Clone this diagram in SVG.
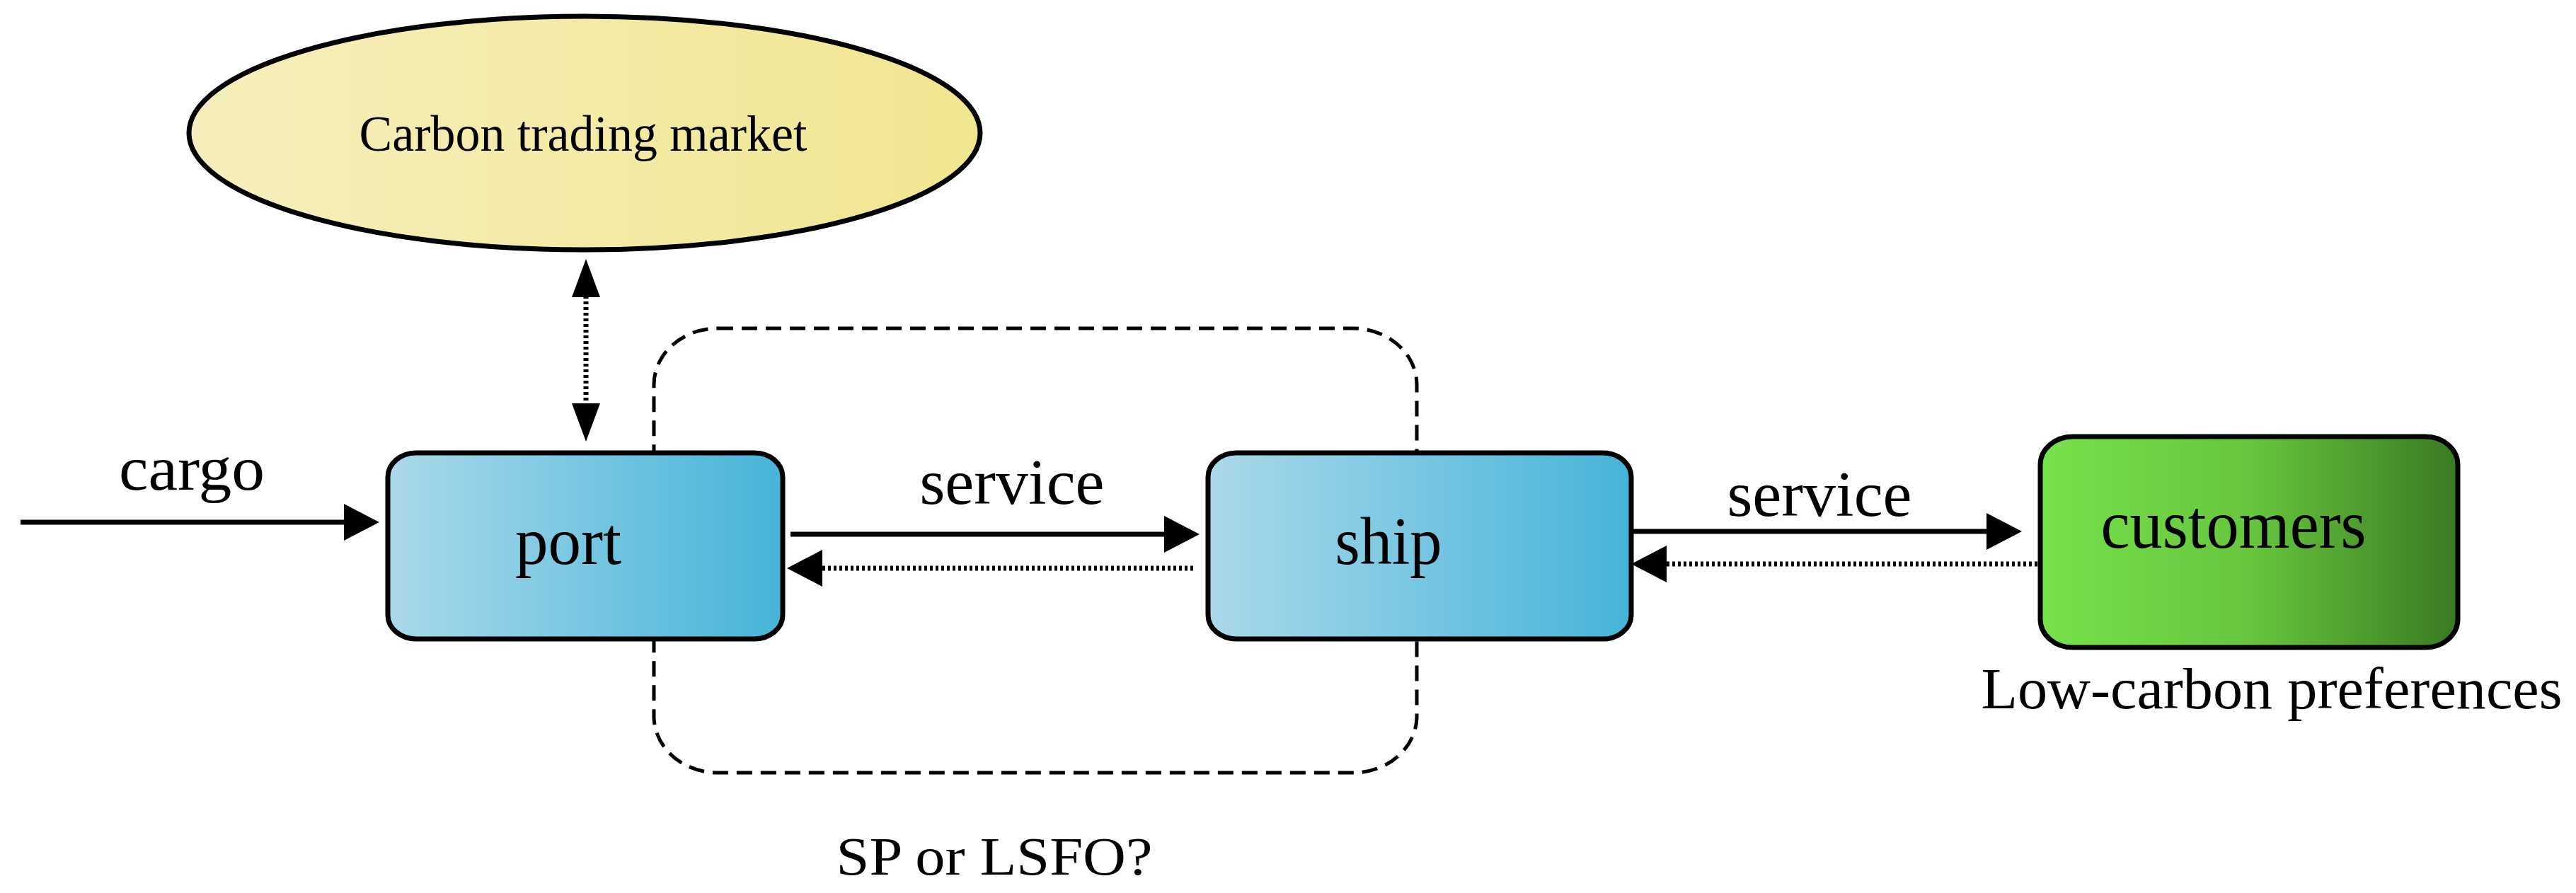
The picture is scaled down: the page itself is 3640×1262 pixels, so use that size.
<svg xmlns="http://www.w3.org/2000/svg" width="3640" height="1262" viewBox="0 0 3640 1262">
<defs>
<linearGradient id="gb" x1="0" y1="0" x2="1" y2="0"><stop offset="0" stop-color="#aad9ea"/><stop offset="1" stop-color="#46b4d9"/></linearGradient>
<linearGradient id="gg" x1="0" y1="0" x2="1" y2="0"><stop offset="0" stop-color="#76e24b"/><stop offset="0.5" stop-color="#67c63e"/><stop offset="1" stop-color="#3a7a22"/></linearGradient>
<linearGradient id="gy" x1="0" y1="0" x2="1" y2="0"><stop offset="0" stop-color="#f6efbd"/><stop offset="1" stop-color="#f1e690"/></linearGradient>
</defs>
<style>
text{font-family:"Liberation Serif","Times New Roman",serif;fill:#000}
.box{stroke:#000;stroke-width:7}
.solid{stroke:#000;stroke-width:7;fill:none}
.dot{stroke:#000;stroke-width:7;fill:none;stroke-dasharray:4 4}
.dash{stroke:#000;stroke-width:5;fill:none;stroke-dasharray:22 12}
</style>
<g id="market"><ellipse class="box" cx="826" cy="188" rx="559" ry="165" fill="url(#gy)"/><text x="824" y="213" font-size="72" text-anchor="middle" textLength="633" lengthAdjust="spacingAndGlyphs">Carbon trading market</text></g>
<g id="loop"><rect class="dash" x="924" y="464" width="1078" height="628" rx="90" ry="80"/></g>
<g id="port"><rect class="box" x="548" y="640" width="558" height="263" rx="40" ry="34" fill="url(#gb)"/><text x="803" y="797" font-size="96" text-anchor="middle" textLength="150" lengthAdjust="spacingAndGlyphs">port</text></g>
<g id="ship"><rect class="box" x="1707" y="640" width="598" height="263" rx="40" ry="34" fill="url(#gb)"/><text x="1962" y="797" font-size="96" text-anchor="middle" textLength="151" lengthAdjust="spacingAndGlyphs">ship</text></g>
<g id="customers"><rect class="box" x="2883" y="617" width="590" height="298" rx="46" ry="40" fill="url(#gg)"/><text x="3156" y="774" font-size="98" text-anchor="middle" textLength="375" lengthAdjust="spacingAndGlyphs">customers</text></g>
<g id="connectors">
<line class="dot" x1="828" y1="410" x2="828" y2="580"/>
<path d="M828,366 L848,420 L808,420 Z"/><path d="M828,624 L848,570 L808,570 Z"/>
<line class="solid" x1="29" y1="738" x2="490" y2="738"/><path d="M536,738 L486,712 L486,764 Z"/>
<line class="solid" x1="1117" y1="755" x2="1650" y2="755"/><path d="M1695,755 L1645,729 L1645,781 Z"/>
<line class="dot" x1="1686" y1="803" x2="1150" y2="803"/><path d="M1112,803 L1162,777 L1162,829 Z"/>
<line class="solid" x1="2305" y1="751" x2="2810" y2="751"/><path d="M2857,751 L2807,725 L2807,777 Z"/>
<line class="dot" x1="2879" y1="797" x2="2345" y2="797"/><path d="M2305,797 L2355,771 L2355,823 Z"/>
</g>
<g id="labels">
<text x="271" y="692" font-size="88" text-anchor="middle" textLength="206" lengthAdjust="spacingAndGlyphs">cargo</text>
<text x="1430" y="712" font-size="90" text-anchor="middle" textLength="261" lengthAdjust="spacingAndGlyphs">service</text>
<text x="2571" y="729" font-size="90" text-anchor="middle" textLength="261" lengthAdjust="spacingAndGlyphs">service</text>
<text x="3210" y="1001" font-size="82" text-anchor="middle" textLength="821" lengthAdjust="spacingAndGlyphs">Low-carbon preferences</text>
<text x="1405" y="1236" font-size="76" text-anchor="middle" textLength="447" lengthAdjust="spacingAndGlyphs">SP or LSFO?</text>
</g>
</svg>
